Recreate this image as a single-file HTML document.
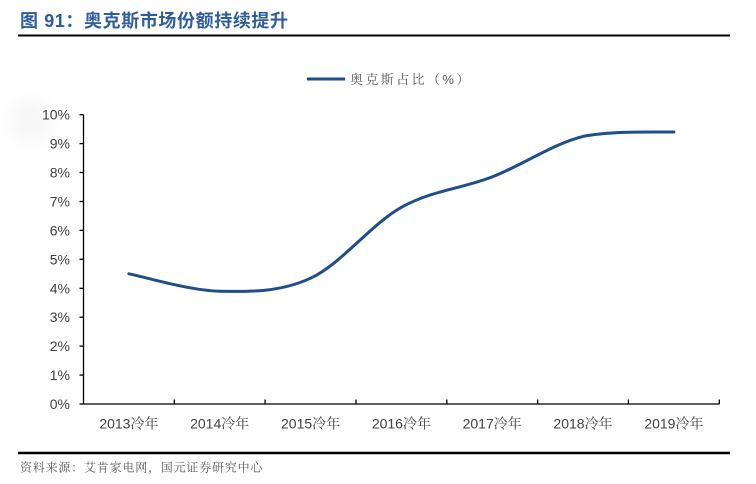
<!DOCTYPE html>
<html>
<head>
<meta charset="utf-8">
<style>
  html,body{margin:0;padding:0;background:#fff;}
  body{width:756px;height:484px;overflow:hidden;position:relative;}
  svg{position:absolute;left:0;top:0;}
</style>
</head>
<body>
<svg width="756" height="484" viewBox="0 0 756 484" xmlns="http://www.w3.org/2000/svg">
  <defs>
    <filter id="blur" x="-50%" y="-50%" width="200%" height="200%">
      <feGaussianBlur stdDeviation="8"/>
    </filter>
  </defs>
  <rect width="756" height="484" fill="#ffffff"/>
  <ellipse cx="30" cy="122" rx="22" ry="22" fill="#f7f7f7" filter="url(#blur)"/>

  <!-- Title -->
  <text x="20" y="27" font-family="'Liberation Sans','Noto Sans CJK SC',sans-serif" font-size="18" font-weight="bold" fill="#2f5d9c" letter-spacing="0.6">图 91：奥克斯市场份额持续提升</text>
  <line x1="18" y1="35.5" x2="730" y2="35.5" stroke="#000" stroke-width="2"/>

  <!-- Legend -->
  <line x1="307" y1="79" x2="345" y2="79" stroke="#1f4e8c" stroke-width="3"/>
  <text x="350" y="84" font-family="'Liberation Sans','Noto Serif CJK SC',serif" font-size="13" fill="#595959" letter-spacing="2.4">奥克斯占比（%）</text>

  <!-- Axes -->
  <g stroke="#000" stroke-width="1.3" fill="none">
    <line x1="83.5" y1="114.7" x2="83.5" y2="404"/>
    <line x1="83" y1="404" x2="719.5" y2="404"/>
    <line x1="79.5" y1="114.7" x2="83.5" y2="114.7"/>
    <line x1="79.5" y1="143.6" x2="83.5" y2="143.6"/>
    <line x1="79.5" y1="172.5" x2="83.5" y2="172.5"/>
    <line x1="79.5" y1="201.5" x2="83.5" y2="201.5"/>
    <line x1="79.5" y1="230.4" x2="83.5" y2="230.4"/>
    <line x1="79.5" y1="259.3" x2="83.5" y2="259.3"/>
    <line x1="79.5" y1="288.3" x2="83.5" y2="288.3"/>
    <line x1="79.5" y1="317.2" x2="83.5" y2="317.2"/>
    <line x1="79.5" y1="346.1" x2="83.5" y2="346.1"/>
    <line x1="79.5" y1="375.1" x2="83.5" y2="375.1"/>
    <line x1="79.5" y1="404" x2="83.5" y2="404"/>
    <line x1="174.3" y1="399.5" x2="174.3" y2="404"/>
    <line x1="265.1" y1="399.5" x2="265.1" y2="404"/>
    <line x1="356" y1="399.5" x2="356" y2="404"/>
    <line x1="446.8" y1="399.5" x2="446.8" y2="404"/>
    <line x1="537.6" y1="399.5" x2="537.6" y2="404"/>
    <line x1="628.4" y1="399.5" x2="628.4" y2="404"/>
    <line x1="719.3" y1="399.5" x2="719.3" y2="404"/>
  </g>

  <!-- Y labels -->
  <g font-family="'Liberation Sans',sans-serif" font-size="14" fill="#404040" text-anchor="end">
    <text x="70" y="119.7">10%</text>
    <text x="70" y="148.6">9%</text>
    <text x="70" y="177.5">8%</text>
    <text x="70" y="206.5">7%</text>
    <text x="70" y="235.4">6%</text>
    <text x="70" y="264.3">5%</text>
    <text x="70" y="293.3">4%</text>
    <text x="70" y="322.2">3%</text>
    <text x="70" y="351.1">2%</text>
    <text x="70" y="380.1">1%</text>
    <text x="70" y="409">0%</text>
  </g>

  <!-- X labels -->
  <g font-family="'Liberation Sans','Noto Serif CJK SC',serif" font-size="14" fill="#404040" text-anchor="middle">
    <text x="128.9" y="428.5">2013冷年</text>
    <text x="219.7" y="428.5">2014冷年</text>
    <text x="310.6" y="428.5">2015冷年</text>
    <text x="401.4" y="428.5">2016冷年</text>
    <text x="492.2" y="428.5">2017冷年</text>
    <text x="583" y="428.5">2018冷年</text>
    <text x="673.9" y="428.5">2019冷年</text>
  </g>

  <!-- Series -->
  <path d="M128.9,273.8 C144.0,276.7 189.4,290.5 219.7,291.2 C250.0,291.9 280.3,292.2 310.6,278.2 C340.9,264.2 371.1,224.2 401.4,207.3 C431.7,190.4 461.9,188.7 492.2,176.9 C522.5,165.1 552.7,143.9 583.0,136.4 C613.3,130.5 658.8,132.3 673.9,132.0"
        fill="none" stroke="#1f4e8c" stroke-width="3" stroke-linecap="round" stroke-linejoin="round"/>

  <!-- Bottom rule & source -->
  <line x1="18" y1="453" x2="730" y2="453" stroke="#000" stroke-width="2.5"/>
  <text x="20" y="471.5" font-family="'Liberation Sans','Noto Serif CJK SC',serif" font-size="12" fill="#595959" letter-spacing="0.8">资料来源：艾肯家电网，国元证券研究中心</text>
</svg>
</body>
</html>
